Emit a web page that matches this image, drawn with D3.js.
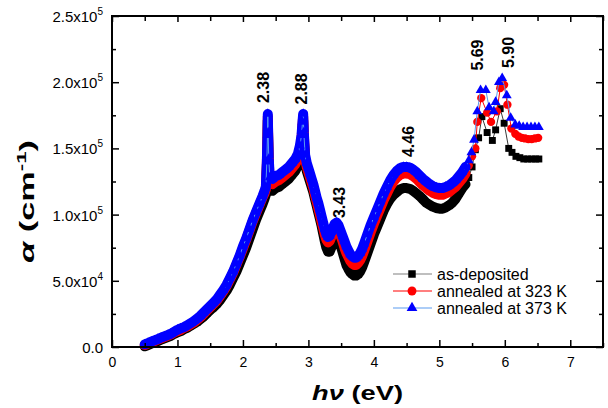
<!DOCTYPE html>
<html><head><meta charset="utf-8">
<script src="https://cdn.jsdelivr.net/npm/d3@7"></script>
<style>
html,body{margin:0;padding:0;background:#fff;}
svg{display:block;font-family:"Liberation Sans",Arial,sans-serif;}
</style></head>
<body><svg id="c" width="608" height="408"></svg>
<script>
// ---------- DATA (alpha in units of 10^5 cm^-1, photon energy in eV) ----------
const energyLow = [0.50,0.55,0.60,0.65,0.70,0.75,0.80,0.85,0.90,0.95,1.00,1.05,1.10,1.15,1.20,1.25,1.30,1.35,1.40,1.45,1.50,1.55,1.60,1.65,1.70,1.75,1.80,1.85,1.90,1.95,2.00,2.05,2.10,2.15,2.20,2.25,2.30,
  2.33,2.35,2.365,2.375,2.38,2.385,2.395,2.41,2.45,
  2.50,2.55,2.60,2.65,2.70,2.75,2.80,2.84,2.87,2.895,2.91,2.92,2.93,2.95,
  2.975,3.00,3.025,3.05,3.075,3.10,3.125,3.15,3.175,3.20,3.225,3.25,3.275,3.30,3.325,3.35,3.375,3.40,3.43,3.46,3.49,
  3.52,3.55,3.58,3.61,3.64,3.67,3.70,3.73,3.76,3.79,3.82,3.85,3.90,3.95,4.00,4.05,4.10,4.15,4.20,4.25,4.30,4.35,4.40,4.45,4.50,4.55,4.60,4.65,4.70,4.75,4.80,4.85,4.90,4.95,5.00,5.05,5.10,5.15,5.20,5.25,5.30,5.35,5.40];

const alphaDepLow = [0.005,0.015,0.025,0.035,0.045,0.055,0.065,0.075,0.085,0.10,0.11,0.12,0.135,0.145,0.16,0.175,0.19,0.21,0.23,0.255,0.28,0.30,0.325,0.355,0.39,0.425,0.47,0.52,0.57,0.63,0.69,0.75,0.82,0.89,0.96,1.02,1.08,
  1.12,1.15,1.34,1.55,1.71,1.57,1.36,1.19,1.18,
  1.20,1.21,1.23,1.25,1.27,1.30,1.33,1.37,1.43,1.52,1.64,1.71,1.57,1.38,
  1.33,1.29,1.25,1.21,1.17,1.12,1.07,1.02,0.97,0.92,0.86,0.80,0.75,0.72,0.72,0.75,0.79,0.83,0.84,0.82,0.77,
  0.72,0.67,0.62,0.59,0.565,0.55,0.54,0.54,0.55,0.57,0.60,0.64,0.71,0.78,0.85,0.91,0.97,1.03,1.08,1.12,1.15,1.17,1.19,1.20,1.20,1.195,1.18,1.16,1.14,1.115,1.09,1.075,1.06,1.05,1.045,1.045,1.055,1.07,1.09,1.12,1.16,1.20,1.23];

const alpha323Low = [0.015,0.025,0.035,0.045,0.055,0.065,0.075,0.085,0.095,0.11,0.12,0.13,0.145,0.155,0.17,0.185,0.205,0.225,0.25,0.275,0.30,0.325,0.35,0.385,0.42,0.46,0.51,0.56,0.62,0.68,0.745,0.81,0.88,0.95,1.01,1.07,1.13,
  1.16,1.19,1.38,1.58,1.74,1.60,1.40,1.24,1.23,
  1.25,1.26,1.28,1.30,1.32,1.35,1.38,1.42,1.48,1.57,1.68,1.74,1.60,1.42,
  1.36,1.32,1.28,1.24,1.20,1.15,1.10,1.05,1.00,0.95,0.90,0.85,0.81,0.79,0.80,0.83,0.86,0.89,0.90,0.88,0.84,
  0.80,0.75,0.71,0.68,0.65,0.63,0.62,0.62,0.635,0.655,0.685,0.725,0.795,0.865,0.93,0.99,1.05,1.11,1.16,1.21,1.25,1.28,1.30,1.31,1.31,1.305,1.29,1.27,1.245,1.22,1.20,1.18,1.165,1.155,1.15,1.15,1.16,1.17,1.19,1.21,1.24,1.27,1.31];

const alpha373Low = [0.02,0.03,0.04,0.05,0.06,0.07,0.08,0.09,0.10,0.115,0.13,0.14,0.15,0.165,0.18,0.195,0.215,0.235,0.26,0.285,0.31,0.335,0.36,0.395,0.43,0.47,0.52,0.57,0.63,0.69,0.76,0.82,0.89,0.96,1.02,1.08,1.14,
  1.18,1.21,1.40,1.60,1.76,1.62,1.42,1.28,1.27,
  1.29,1.30,1.32,1.34,1.36,1.39,1.42,1.46,1.52,1.60,1.70,1.76,1.62,1.45,
  1.39,1.35,1.31,1.27,1.23,1.18,1.13,1.09,1.04,0.99,0.94,0.89,0.85,0.83,0.84,0.87,0.90,0.93,0.94,0.92,0.88,
  0.84,0.80,0.76,0.73,0.70,0.685,0.675,0.675,0.69,0.71,0.74,0.78,0.85,0.92,0.98,1.04,1.10,1.16,1.21,1.26,1.30,1.33,1.35,1.36,1.36,1.355,1.34,1.32,1.295,1.27,1.25,1.23,1.215,1.205,1.20,1.20,1.21,1.22,1.24,1.26,1.29,1.32,1.36];

// UV part (sparser points, each sample set read separately)
const energyDepUV = [5.45,5.50,5.55,5.60,5.65,5.73,5.81,5.86,5.93,5.99,6.06,6.11,6.17,6.23,6.29,6.35,6.41,6.47,6.52];
const alphaDepUV  = [1.28,1.36,1.49,1.58,1.74,1.62,1.56,1.64,1.80,1.69,1.50,1.47,1.44,1.43,1.42,1.42,1.42,1.42,1.42];
const energy323UV = [5.45,5.50,5.55,5.58,5.64,5.73,5.79,5.88,5.93,5.99,6.04,6.10,6.16,6.21,6.26,6.31,6.36,6.41,6.46,6.51];
const alpha323UV  = [1.37,1.44,1.50,1.70,1.88,1.77,1.70,1.78,1.955,1.98,1.83,1.65,1.61,1.59,1.58,1.575,1.57,1.57,1.575,1.58];
const energy373UV = [5.45,5.49,5.53,5.58,5.63,5.71,5.76,5.83,5.86,5.91,5.96,6.03,6.09,6.16,6.22,6.28,6.34,6.40,6.46,6.52];
const alpha373UV  = [1.41,1.47,1.565,1.78,1.94,1.94,1.81,1.78,1.85,2.00,2.03,1.90,1.73,1.68,1.67,1.66,1.66,1.66,1.66,1.66];

const seriesNames = ["as-deposited","annealed at 323 K","annealed at 373 K"];
const peakLabels = ["2.38","2.88","3.43","4.46","5.69","5.90"];
const peakLabelEnergy = [2.314,2.894,3.467,4.521,5.583,6.053];
const peakLabelAlpha = [1.960,1.949,1.091,1.552,2.205,2.224];
const xTickValues = [0,1,2,3,4,5,6,7];
const yTickValues = [0,0.5,1.0,1.5,2.0,2.5];
const yTickMantissa = ["0.0","5.0","1.0","1.5","2.0","2.5"];
const yTickExponent = ["","4","5","5","5","5"];

// ---------- CHART ----------
const svg = d3.select("#c");
const L = 112, R = 603, T = 16, B = 347;
const x = d3.scaleLinear().domain([0,7.5]).range([L,R]);
const y = d3.scaleLinear().domain([0,2.5]).range([B,T]);

function zip(e,a){ return e.map((v,i)=>({e:v,a:a[i]})); }
const series = [
  {name:seriesNames[0], low:zip(energyLow, alphaDepLow), uv:zip(energyDepUV, alphaDepUV), fill:"#000000", line:"#3a3a3a", sym:d3.symbolSquare, size:48},
  {name:seriesNames[1], low:zip(energyLow, alpha323Low), uv:zip(energy323UV, alpha323UV), fill:"#ff0000", line:"#ff0000", sym:d3.symbolCircle, size:54},
  {name:seriesNames[2], low:zip(energyLow, alpha373Low), uv:zip(energy373UV, alpha373UV), fill:"#0000ff", line:"#5a9bf0", sym:d3.symbolTriangle, size:42}
];

const lineGen = d3.line().x(d=>x(d.e)).y(d=>y(d.a));
series.forEach(s=>{
  const g = svg.append("g");
  const all = s.low.concat(s.uv);
  // dense, overlapping markers of the measured spectrum form a solid band
  g.append("path").datum(s.low).attr("d",lineGen).attr("fill","none")
    .attr("stroke",s.fill).attr("stroke-width",10).attr("stroke-linejoin","round").attr("stroke-linecap","round");
  g.append("path").datum(all).attr("d",lineGen).attr("fill","none").attr("stroke",s.line).attr("stroke-width",1);
  g.selectAll("path.m").data(all).join("path").attr("class","m")
    .attr("d", d3.symbol().type(s.sym).size(s.size))
    .attr("transform", d=>`translate(${x(d.e)},${y(d.a)})`)
    .attr("fill", s.fill);
});

// axes
const minorX = d3.range(0,7.51,0.5).filter(v=>Math.abs(v-Math.round(v))>0.01);
const minorY = d3.range(0.25,2.5,0.5);
function styleAxis(g){ g.select(".domain").remove(); g.selectAll("line").attr("stroke","#000").attr("stroke-width",1.5); }

svg.append("g").attr("transform",`translate(0,${B})`)
  .call(d3.axisBottom(x).tickValues(xTickValues).tickFormat(d3.format("d")).tickSizeInner(-7).tickSizeOuter(0).tickPadding(10))
  .call(styleAxis).call(g=>g.selectAll("text").attr("font-size",14).attr("font-family","Liberation Sans, Arial, sans-serif").attr("fill","#000"));
svg.append("g").attr("transform",`translate(0,${B})`)
  .call(d3.axisBottom(x).tickValues(minorX).tickFormat("").tickSizeInner(-4).tickSizeOuter(0)).call(styleAxis);
svg.append("g").attr("transform",`translate(0,${T})`)
  .call(d3.axisTop(x).tickValues(xTickValues).tickFormat("").tickSizeInner(-6).tickSizeOuter(0)).call(styleAxis);
svg.append("g").attr("transform",`translate(0,${T})`)
  .call(d3.axisTop(x).tickValues(minorX).tickFormat("").tickSizeInner(-5).tickSizeOuter(0)).call(styleAxis);

const yAx = svg.append("g").attr("transform",`translate(${L},0)`)
  .call(d3.axisLeft(y).tickValues(yTickValues).tickFormat("").tickSizeInner(-7).tickSizeOuter(0).tickPadding(9))
  .call(styleAxis);
yAx.selectAll("g.tick text").each(function(d,i){
  const t = d3.select(this).attr("font-size",15).attr("fill","#000").attr("font-family","Liberation Sans, Arial, sans-serif").attr("dy","0.36em");
  t.text(null);
  if (yTickExponent[i]) {
    t.append("tspan").text(yTickMantissa[i] + "x10");
    t.append("tspan").text(yTickExponent[i]).attr("font-size",10).attr("dy",-7);
  } else {
    t.append("tspan").text(yTickMantissa[i]);
  }
});
svg.append("g").attr("transform",`translate(${L},0)`)
  .call(d3.axisLeft(y).tickValues(minorY).tickFormat("").tickSizeInner(-4).tickSizeOuter(0)).call(styleAxis);
svg.append("g").attr("transform",`translate(${R},0)`)
  .call(d3.axisRight(y).tickValues(yTickValues).tickFormat("").tickSizeInner(-7).tickSizeOuter(0)).call(styleAxis);
svg.append("g").attr("transform",`translate(${R},0)`)
  .call(d3.axisRight(y).tickValues(minorY).tickFormat("").tickSizeInner(-4).tickSizeOuter(0)).call(styleAxis);

svg.append("rect").attr("x",L).attr("y",T).attr("width",R-L).attr("height",B-T)
  .attr("fill","none").attr("stroke","#000").attr("stroke-width",2);

// peak labels
peakLabels.forEach((lab,i)=>{
  svg.append("text")
    .attr("transform",`translate(${x(peakLabelEnergy[i])},${y(peakLabelAlpha[i])}) rotate(-90)`)
    .attr("text-anchor","middle").attr("dy","0.36em")
    .attr("font-size",16).attr("font-weight","bold").attr("fill","#000").text(lab);
});

// legend
const legY = [274,291,308];
series.forEach((s,i)=>{
  const g = svg.append("g");
  g.append("line").attr("x1",393).attr("x2",432).attr("y1",legY[i]).attr("y2",legY[i]).attr("stroke", i===0?"#808080":s.line).attr("stroke-width",1.2);
  g.append("path").attr("d",d3.symbol().type(s.sym).size(s.size+8)).attr("transform",`translate(412,${legY[i]})`).attr("fill",s.fill);
  g.append("text").attr("x",437).attr("y",legY[i]).attr("dy","0.36em").attr("font-size",16).attr("fill","#000").text(s.name);
});

// axis titles (stretched to match the reference proportions)
const xt = svg.append("text").attr("font-size",20).attr("font-weight","bold").attr("text-anchor","middle").attr("fill","#000");
xt.append("tspan").attr("font-style","italic").text("hν");
xt.append("tspan").text(" (eV)");
const xw = xt.node().getComputedTextLength();
xt.attr("transform",`translate(357.5,400) scale(${91/xw},1)`);

const yt = svg.append("text").attr("font-size",20).attr("font-weight","bold").attr("text-anchor","middle").attr("fill","#000");
yt.append("tspan").attr("font-style","italic").text("α");
yt.append("tspan").text(" (cm");
yt.append("tspan").attr("font-size",13).attr("dy",-8).text("-1");
yt.append("tspan").attr("dy",8).text(")");
const yw = yt.node().getComputedTextLength();
yt.attr("transform",`translate(34,201.5) rotate(-90) scale(${123/yw},1)`);
</script>
</body></html>
